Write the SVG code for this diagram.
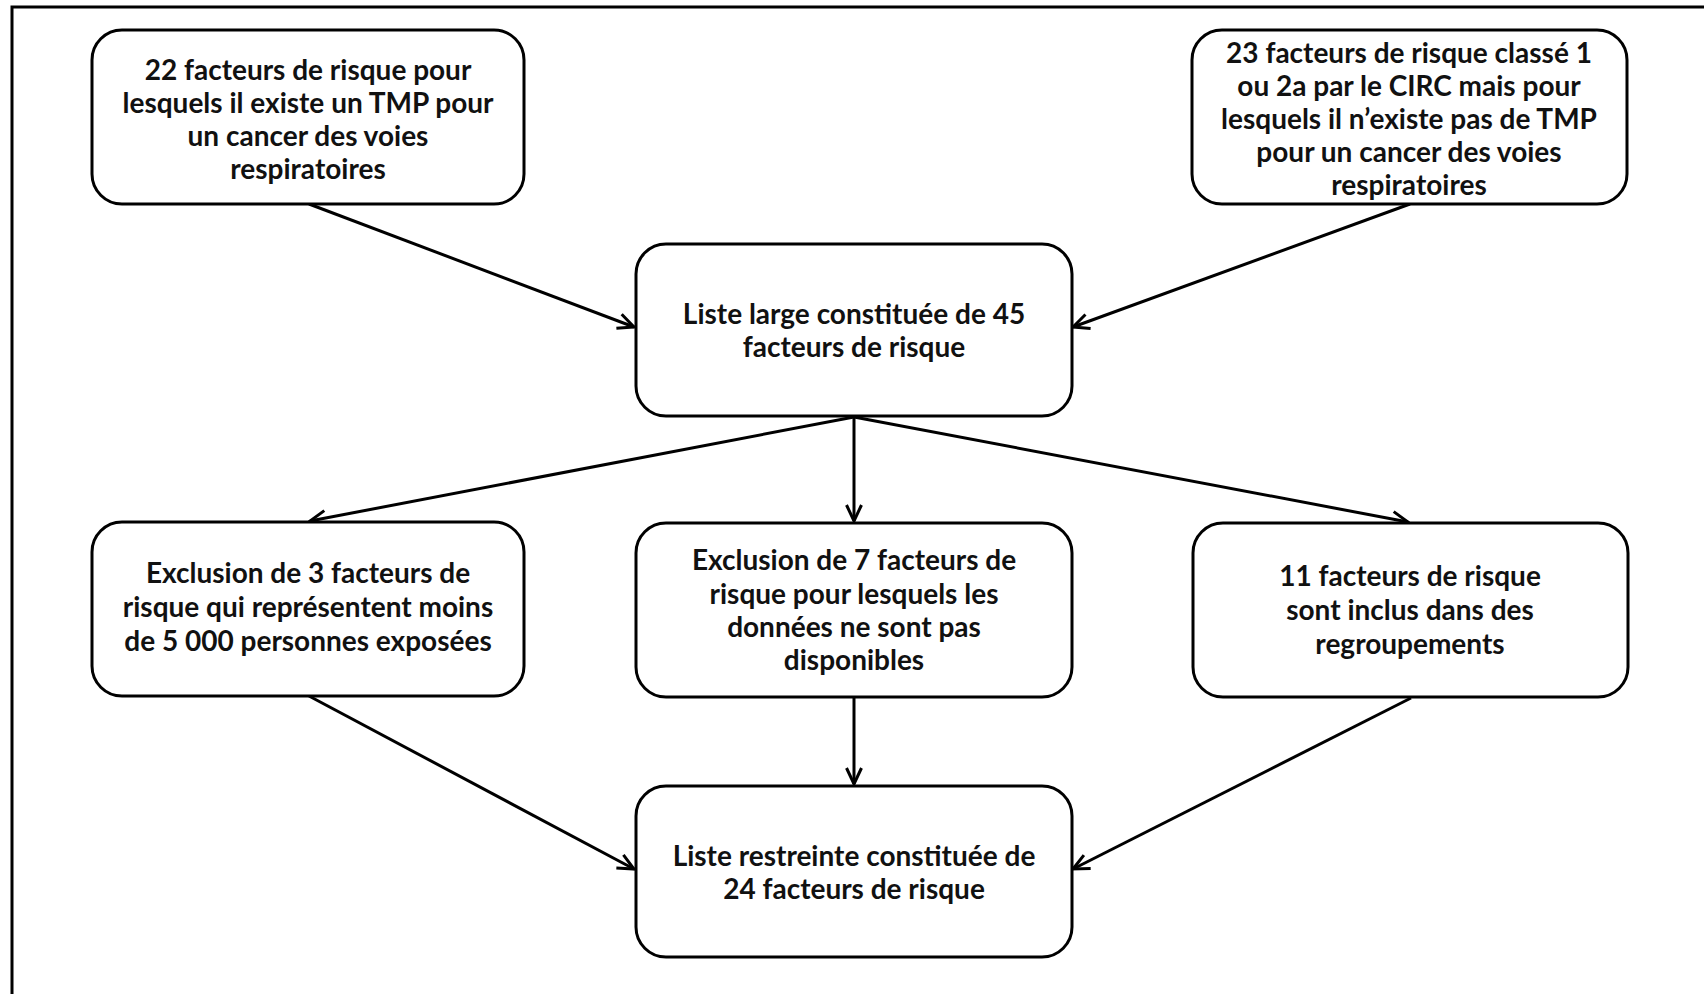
<svg xmlns="http://www.w3.org/2000/svg" width="1704" height="994" viewBox="0 0 1704 994">
<style>
.box{fill:#fff;stroke:#000;stroke-width:3}
.t{font-family:Lato,"Open Sans","Liberation Sans",sans-serif;font-weight:bold;font-size:28px;fill:#111;text-anchor:middle}
.c{stroke:#000;stroke-width:3;fill:none}
</style>
<defs>
<marker id="ah" viewBox="0 0 20 20" refX="18" refY="10" markerWidth="20" markerHeight="20" markerUnits="userSpaceOnUse" orient="auto">
<path d="M2,2.5 L18,10 L2,17.5" fill="none" stroke="#000" stroke-width="3"/>
</marker>
</defs>
<rect x="0" y="0" width="1704" height="994" fill="#fff"/>
<rect x="12" y="7" width="1800" height="1100" fill="none" stroke="#000" stroke-width="3"/>
<g id="connectors">
<line class="c" x1="309" y1="204" x2="634" y2="327" marker-end="url(#ah)"/>
<line class="c" x1="1410" y1="204" x2="1073" y2="327" marker-end="url(#ah)"/>
<line class="c" x1="854" y1="417" x2="310" y2="521" marker-end="url(#ah)"/>
<line class="c" x1="854" y1="417" x2="854" y2="521" marker-end="url(#ah)"/>
<line class="c" x1="854" y1="417" x2="1408" y2="522" marker-end="url(#ah)"/>
<line class="c" x1="309" y1="696" x2="634" y2="869" marker-end="url(#ah)"/>
<line class="c" x1="854" y1="698" x2="854" y2="784" marker-end="url(#ah)"/>
<line class="c" x1="1411" y1="698" x2="1073" y2="869" marker-end="url(#ah)"/>
</g>
<g id="n1">
<rect class="box" x="92" y="30" width="432" height="174" rx="30"/>
<text class="t"><tspan x="308" y="80">22 facteurs de risque pour</tspan><tspan x="308" y="113">lesquels il existe un TMP pour</tspan><tspan x="308" y="146">un cancer des voies</tspan><tspan x="308" y="179">respiratoires</tspan></text>
</g>
<g id="n2">
<rect class="box" x="1192" y="30" width="435" height="174" rx="30"/>
<text class="t"><tspan x="1409" y="63">23 facteurs de risque classé 1</tspan><tspan x="1409" y="96">ou 2a par le CIRC mais pour</tspan><tspan x="1409" y="129">lesquels il n’existe pas de TMP</tspan><tspan x="1409" y="162">pour un cancer des voies</tspan><tspan x="1409" y="195">respiratoires</tspan></text>
</g>
<g id="n3">
<rect class="box" x="636" y="244" width="436" height="172" rx="30"/>
<text class="t"><tspan x="854" y="324">Liste large constituée de 45</tspan><tspan x="854" y="357">facteurs de risque</tspan></text>
</g>
<g id="n4">
<rect class="box" x="92" y="522" width="432" height="174" rx="30"/>
<text class="t"><tspan x="308" y="583">Exclusion de 3 facteurs de</tspan><tspan x="308" y="617">risque qui représentent moins</tspan><tspan x="308" y="651">de 5 000 personnes exposées</tspan></text>
</g>
<g id="n5">
<rect class="box" x="636" y="523" width="436" height="174" rx="30"/>
<text class="t"><tspan x="854" y="570">Exclusion de 7 facteurs de</tspan><tspan x="854" y="604">risque pour lesquels les</tspan><tspan x="854" y="637">données ne sont pas</tspan><tspan x="854" y="670">disponibles</tspan></text>
</g>
<g id="n6">
<rect class="box" x="1193" y="523" width="435" height="174" rx="30"/>
<text class="t"><tspan x="1410" y="586">11 facteurs de risque</tspan><tspan x="1410" y="620">sont inclus dans des</tspan><tspan x="1410" y="654">regroupements</tspan></text>
</g>
<g id="n7">
<rect class="box" x="636" y="786" width="436" height="171" rx="30"/>
<text class="t"><tspan x="854" y="866">Liste restreinte constituée de</tspan><tspan x="854" y="899">24 facteurs de risque</tspan></text>
</g>
</svg>
